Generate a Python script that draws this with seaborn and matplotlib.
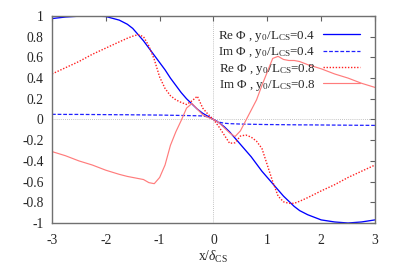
import numpy as np
import pandas as pd
import matplotlib
matplotlib.use("Agg")
import matplotlib.pyplot as plt
import seaborn as sns

# --- datos ---
x = [-3.0, -2.75, -2.5, -2.25, -2.0, -1.75, -1.6, -1.5, -1.4, -1.3, -1.2, -1.1,
     -1.0, -0.9, -0.8, -0.7, -0.6, -0.5, -0.4, -0.3, -0.2, -0.1, 0.0,
     0.1, 0.2, 0.3, 0.4, 0.5, 0.6, 0.7, 0.8, 0.9, 1.0, 1.1, 1.2, 1.3, 1.4,
     1.5, 1.6, 1.75, 2.0, 2.25, 2.5, 2.75, 3.0]

re_04 = [0.975, 0.99, 0.998, 1.0, 0.995, 0.96, 0.92, 0.88, 0.82, 0.76, 0.69, 0.62,
         0.55, 0.48, 0.40, 0.33, 0.26, 0.20, 0.15, 0.10, 0.06, 0.03, 0.0,
         -0.03, -0.07, -0.12, -0.18, -0.24, -0.30, -0.36, -0.43, -0.50, -0.56, -0.62, -0.68, -0.74, -0.79,
         -0.84, -0.88, -0.92, -0.97, -0.99, -1.0, -0.99, -0.97]

im_04 = [0.050, 0.049, 0.049, 0.048, 0.047, 0.046, 0.046, 0.045, 0.045, 0.044, 0.044, 0.043,
         0.043, 0.042, 0.041, 0.040, 0.039, 0.038, 0.037, 0.036, 0.034, 0.025, 0.0,
         -0.025, -0.036, -0.040, -0.042, -0.044, -0.045, -0.046, -0.047, -0.048, -0.049, -0.049, -0.050, -0.050, -0.051,
         -0.051, -0.052, -0.052, -0.053, -0.054, -0.055, -0.056, -0.057]

re_08 = [0.44, 0.50, 0.56, 0.63, 0.69, 0.75, 0.785, 0.805, 0.82, 0.80, 0.71, 0.58,
         0.41, 0.30, 0.23, 0.19, 0.165, 0.145, 0.18, 0.225, 0.11, 0.05, 0.0,
         -0.07, -0.15, -0.23, -0.225, -0.16, -0.15, -0.17, -0.21, -0.28, -0.44, -0.60, -0.74, -0.795, -0.81,
         -0.81, -0.79, -0.755, -0.69, -0.63, -0.56, -0.50, -0.44]

im_08 = [-0.31, -0.35, -0.40, -0.44, -0.49, -0.53, -0.55, -0.56, -0.57, -0.58, -0.61, -0.62,
         -0.56, -0.44, -0.25, -0.12, -0.01, 0.11, 0.155, 0.10, 0.045, 0.02, 0.0,
         -0.03, -0.08, -0.13, -0.165, -0.11, -0.01, 0.09, 0.19, 0.33, 0.46, 0.59, 0.61, 0.58, 0.57,
         0.57, 0.56, 0.53, 0.49, 0.44, 0.40, 0.35, 0.31]

labels = ["Re Φ , y$_0$/L$_{\\rm CS}$=0.4",
          "Im Φ , y$_0$/L$_{\\rm CS}$=0.4",
          "Re Φ , y$_0$/L$_{\\rm CS}$=0.8",
          "Im Φ , y$_0$/L$_{\\rm CS}$=0.8"]

x_ticks = [-3, -2, -1, 0, 1, 2, 3]
y_ticks = [-1, -0.8, -0.6, -0.4, -0.2, 0, 0.2, 0.4, 0.6, 0.8, 1]
y_ticklabels = ["-1", "-0.8", "-0.6", "-0.4", "-0.2", "0", "0.2", "0.4", "0.6", "0.8", "1"]

# --- estilo ---
sns.set_theme(style="white")
plt.rcParams["font.family"] = ["Liberation Serif", "DejaVu Serif"]
plt.rcParams["mathtext.fontset"] = "custom"
plt.rcParams["mathtext.rm"] = "Liberation Serif"
plt.rcParams["mathtext.it"] = "Liberation Serif:italic"
plt.rcParams["mathtext.bf"] = "Liberation Serif:bold"

fs = 9.8
fs_leg = 9.4
fig = plt.figure(figsize=(3.99, 2.79), dpi=100)
ax = fig.add_axes([0.1303, 0.2007, 0.8095, 0.742])

ax.axhline(0, color="#b0b0b0", lw=0.6, ls=(0, (1, 1.5)), zorder=0.5)
ax.axvline(0, color="#b0b0b0", lw=0.6, ls=(0, (1, 1.5)), zorder=0.5)

series = [re_04, im_04, re_08, im_08]
colors = ["#0000ff", "#2020ff", "#ff2020", "#ff7c7c"]
styles = ["-", (0, (3, 1.5)), (0, (1, 1.2)), "-"]
widths = [0.95, 0.9, 1.0, 0.85]

for y, lab, c, ls, lw in zip(series, labels, colors, styles, widths):
    sns.lineplot(x=x, y=y, ax=ax, color=c, linestyle=ls, linewidth=lw, label=lab)

ax.set_xlim(-3, 3)
ax.set_ylim(-1, 1)
ax.set_xticks(x_ticks)
ax.set_xticklabels([str(t) for t in x_ticks], fontsize=fs)
ax.set_yticks(y_ticks)
ax.set_yticklabels(y_ticklabels, fontsize=fs)
ax.tick_params(direction="in", length=3.5, width=0.8, color="#606060",
               top=True, right=True, pad=6)
ax.tick_params(axis="x", pad=8)
for sp in ax.spines.values():
    sp.set_color("#707070")
    sp.set_linewidth(1.0)

ax.set_xlabel(r"x/$\delta_{\rm CS}$", fontsize=fs, labelpad=1)
ax.set_ylabel("")

ax.legend(loc="upper right", bbox_to_anchor=(0.977, 0.975), frameon=False,
          markerfirst=False, fontsize=fs_leg, handlelength=2.8, handletextpad=0.6,
          labelspacing=0.1, borderaxespad=0.2)

fig.savefig("out.png", dpi=100)
